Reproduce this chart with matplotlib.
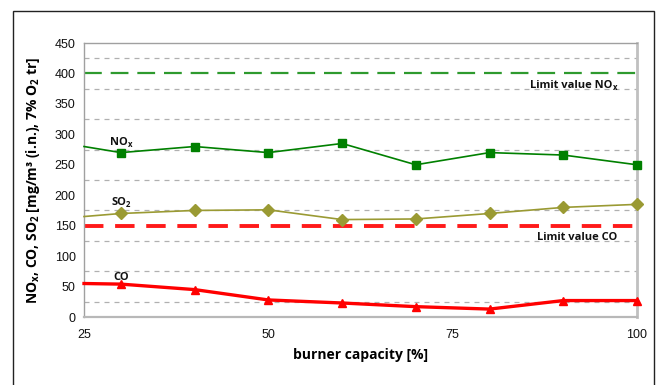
import matplotlib
matplotlib.use("Agg")
import matplotlib.pyplot as plt
from matplotlib.patches import Rectangle
from matplotlib.transforms import offset_copy

capacity = [25, 30, 40, 50, 60, 70, 80, 90, 100]
nox = [280, 270, 280, 270, 285, 250, 270, 266, 250]
so2 = [165, 170, 175, 176, 160, 161, 170, 180, 185]
co = [55, 54, 45, 28, 23, 17, 13, 27, 27]
limit_nox = 400
limit_co = 150
yticks = [0, 50, 100, 150, 200, 250, 300, 350, 400, 450]
xticks = [25, 50, 75, 100]
grid_levels = [25, 75, 125, 175, 225, 275, 325, 375, 425]

W, H = 657, 385
fig = plt.figure(figsize=(W / 100, H / 100), dpi=100)
ax = fig.add_axes([84 / W, 1 - 317 / H, (637 - 84) / W, (317 - 43) / H])
renderer = fig.canvas.get_renderer()

# outer frame
fig.patches.append(Rectangle((13 / W, -0.1), (654 - 13) / W, 1.1 - 11 / H,
                             transform=fig.transFigure, fill=False,
                             edgecolor="#222222", linewidth=1.0))

for g in grid_levels:
    ax.axhline(g, color="#b0b0b0", linestyle=(0, (4, 4)), linewidth=0.9, zorder=1)

ax.axhline(limit_nox, color="#2e9a2e", linestyle=(0, (8, 4)), linewidth=1.6, zorder=2)
ax.axhline(limit_co, color="#ff1a1a", linestyle=(0, (5, 3)), linewidth=2.8, zorder=2)

mk = list(range(1, len(capacity)))
ax.plot(capacity, nox, color="#008000", linewidth=1.2, marker="s", markersize=6,
        markevery=mk, zorder=3, clip_on=False)
ax.plot(capacity, so2, color="#9a9a33", linewidth=1.2, marker="D", markersize=6,
        markevery=mk, zorder=3, clip_on=False)
ax.plot(capacity, co, color="#ff0000", linewidth=2.4, marker="^", markersize=6,
        markevery=mk, zorder=3, clip_on=False)

tfont = dict(family="Open Sans", fontweight="bold", color="#111111")


def label(x, y, base, sub="", ha="center", size=8):
    # draw base text + smaller subscript as separate plain-text pieces
    tb = ax.text(0, 0, base, fontsize=size, **tfont)
    wb = tb.get_window_extent(renderer).width
    ws = 0
    ts = None
    if sub:
        ts = ax.text(0, 0, sub, fontsize=size * 0.7, **tfont)
        ws = ts.get_window_extent(renderer).width
    total = wb + ws
    if ha == "center":
        x0 = -total / 2
    elif ha == "right":
        x0 = -total
    else:
        x0 = 0
    tb.set_position((x, y))
    tb.set_transform(offset_copy(ax.transData, fig=fig, x=x0, y=0, units="dots"))
    tb.set_va("baseline")
    if ts is not None:
        ts.set_position((x, y))
        ts.set_transform(offset_copy(ax.transData, fig=fig, x=x0 + wb, y=-2, units="dots"))
        ts.set_va("baseline")


label(30, 282, "NO", "x")
label(30, 184, "SO", "2")
label(30, 60, "CO")
label(97.3, 376, "Limit value NO", "x", ha="right")
label(97.3, 126, "Limit value CO", ha="right")

ax.set_xlim(25, 100)
ax.set_ylim(0, 450)
ax.set_xticks(xticks)
ax.set_yticks(yticks)
ax.tick_params(axis="both", length=0, labelsize=9, pad=6, colors="#111111")
for lab in ax.get_xticklabels() + ax.get_yticklabels():
    lab.set_family("Liberation Sans")
ax.tick_params(axis="x", pad=9)

for s in ["left", "bottom", "top"]:
    ax.spines[s].set_color("#a0a0a0")
    ax.spines[s].set_linewidth(1.0)
ax.spines["right"].set_color("#c0c0c0")
ax.spines["right"].set_linewidth(2.0)
ax.spines["bottom"].set_color("#b8b8b8")
ax.spines["bottom"].set_linewidth(1.6)

ax.set_xlabel("burner capacity [%]", family="Open Sans", fontweight="bold", fontsize=10,
              labelpad=5)
ax.set_ylabel("NO$_\\mathregular{x}$, CO, SO$_\\mathregular{2}$ [mg/m³ (i.n.), 7% O$_\\mathregular{2}$ tr]",
              family="Open Sans", fontweight="bold", fontsize=10, labelpad=9)

fig.savefig("out.png", dpi=100)
